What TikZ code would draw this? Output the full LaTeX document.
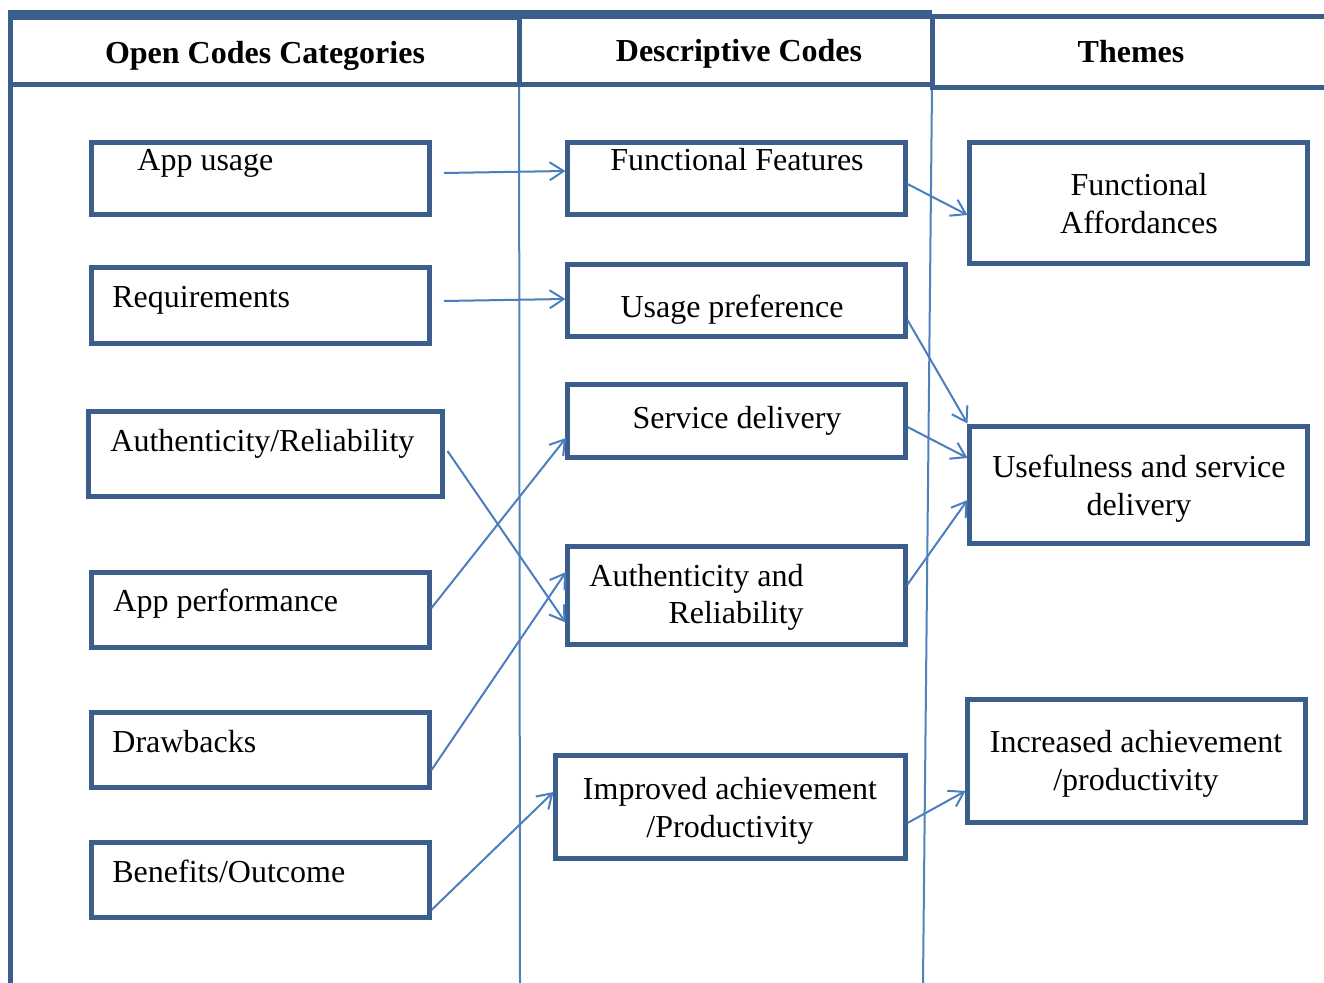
\documentclass[tikz,border=0pt]{standalone}
\usepackage{fontspec}
\setmainfont{Liberation Serif}
\usetikzlibrary{arrows.meta}
\definecolor{boxc}{HTML}{3B5E8C}
\definecolor{linec}{HTML}{4A7EBF}
\definecolor{divc}{HTML}{4F81BD}
\begin{document}
\begin{tikzpicture}[x=0.5pt,y=-0.5pt,
  box/.style n args={2}{draw=boxc,line width=2.5pt,outer sep=0pt,inner sep=0pt,
     minimum width={#1*0.5pt},minimum height={#2*0.5pt}},
  txt/.style={font=\fontsize{16}{19}\selectfont,inner sep=0pt,text=black},
  head/.style={font=\fontsize{16}{19}\selectfont\bfseries,inner sep=0pt,text=black},
  frame/.style={draw=boxc,line width=2.5pt},
  divider/.style={draw=divc,line width=1pt},
  conn/.style={draw=linec,line width=1pt,-{Straight Barb[length=7pt,width=9pt,line width=1pt]}}]
\useasboundingbox (0,0) rectangle (1324,983);
% frame and column dividers
\draw[divider] (519,13) -- (520,983);
\draw[divider] (932,88) -- (923,983);
\draw[frame] (10.5,983) -- (10.5,13);
\draw[frame] (8,13) -- (932,13);
\draw[frame] (10.5,18) rectangle (519,85);
\draw[frame] (519,17) rectangle (932,85);
\draw[frame] (932,17) -- (1330,17) (1330,88) -- (932,88) -- (932,17);
% headers
\node[head,anchor=base] (h1) at (265,64) {Open Codes Categories};
\node[head,anchor=base] (h2) at (739,62) {Descriptive Codes};
\node[head,anchor=base] (h3) at (1131,63) {Themes};
% left column boxes
\node[box={338}{72}] (appusage) at (260.5,178.5) {};
\node[box={338}{76}] (requirements) at (260.5,305.5) {};
\node[box={354}{85}] (authrel) at (265.5,454) {};
\node[box={338}{75}] (appperf) at (260.5,610) {};
\node[box={338}{75}] (drawbacks) at (260.5,750) {};
\node[box={338}{75}] (benefits) at (260.5,880) {};
\node[txt,anchor=base west] (t-appusage) at (137,171) {App usage};
\node[txt,anchor=base west] (t-req) at (112,308) {Requirements};
\node[txt,anchor=base west] (t-authrel) at (110,452) {Authenticity/Reliability};
\node[txt,anchor=base west] (t-appperf) at (113,612) {App performance};
\node[txt,anchor=base west] (t-draw) at (112,753) {Drawbacks};
\node[txt,anchor=base west] (t-ben) at (112,883) {Benefits/Outcome};
% middle column boxes
\node[box={338}{72}] (funcfeat) at (736.5,178.5) {};
\node[box={338}{72}] (usagepref) at (736.5,300.5) {};
\node[box={338}{73}] (servdel) at (736.5,421) {};
\node[box={338}{98}] (authrel2) at (736.5,595.5) {};
\node[box={350}{103}] (improved) at (730.5,807) {};
\node[txt,anchor=base] (t-ff) at (737,171) {Functional Features};
\node[txt,anchor=base] (t-up) at (732,318) {Usage preference};
\node[txt,anchor=base] (t-sd) at (737,429) {Service delivery};
\node[txt,anchor=base west] (t-ar1) at (589,587) {Authenticity and};
\node[txt,anchor=base east] (t-ar2) at (804,624) {Reliability};
\node[txt,anchor=base] (t-imp) at (730,800) {\begin{tabular}[t]{@{}c@{}}Improved achievement\\/Productivity\end{tabular}};
% right column boxes
\node[box={338}{121}] (funcaff) at (1138.5,203) {};
\node[box={338}{117}] (useful) at (1138.5,485) {};
\node[box={338}{123}] (increased) at (1136.5,761) {};
\node[txt,anchor=base] (t-fa) at (1139,196) {\begin{tabular}[t]{@{}c@{}}Functional\\Affordances\end{tabular}};
\node[txt,anchor=base] (t-us) at (1139,478) {\begin{tabular}[t]{@{}c@{}}Usefulness and service\\delivery\end{tabular}};
\node[txt,anchor=base] (t-inc) at (1136,753) {\begin{tabular}[t]{@{}c@{}}Increased achievement\\/productivity\end{tabular}};
% connectors
\draw[conn] ([shift={(14.5,-5.5)}]appusage.east) -- ([shift={(-2,-7.5)}]funcfeat.west);
\draw[conn] ([shift={(14.5,-4.5)}]requirements.east) -- ([shift={(-2,-1.5)}]usagepref.west);
\draw[conn] ([shift={(2,5.5)}]funcfeat.east) -- ([shift={(-2,12)}]funcaff.west);
\draw[conn] ([shift={(2,19.5)}]usagepref.east) -- ([shift={(-2,-61.5)}]useful.west);
\draw[conn] ([shift={(2,6)}]servdel.east) -- ([shift={(-2,-27)}]useful.west);
\draw[conn] ([shift={(2,-11)}]authrel2.east) -- ([shift={(-2,15)}]useful.west);
\draw[conn] ([shift={(5,-3)}]authrel.east) -- ([shift={(-2,27)}]authrel2.west);
\draw[conn] ([shift={(2,-2)}]appperf.east) -- ([shift={(-1.5,17)}]servdel.west);
\draw[conn] ([shift={(2,20)}]drawbacks.east) -- ([shift={(-1.5,-23.5)}]authrel2.west);
\draw[conn] ([shift={(2,30)}]benefits.east) -- ([shift={(-2,-15)}]improved.west);
\draw[conn] ([shift={(2,16)}]improved.east) -- ([shift={(-2,30)}]increased.west);
\end{tikzpicture}
\end{document}
